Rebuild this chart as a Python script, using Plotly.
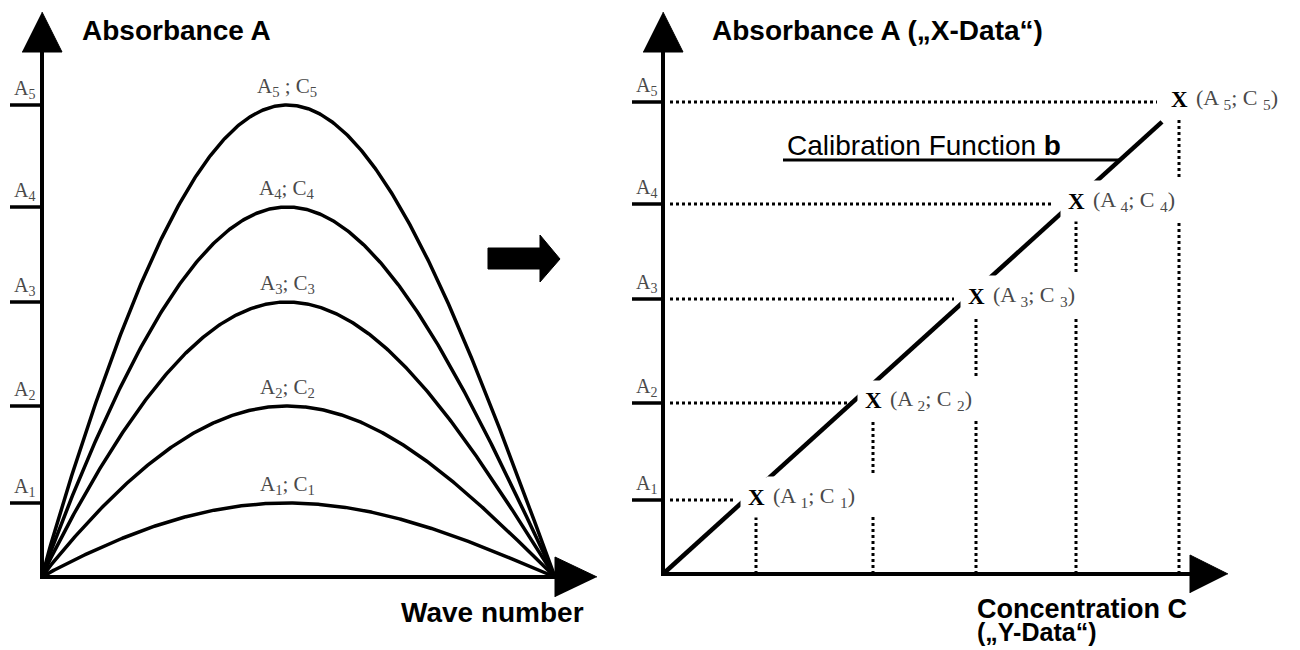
import numpy as np
import plotly.graph_objects as go

# ---- data ------------------------------------------------------------------
levels = ["1", "2", "3", "4", "5"]
absorbance = [0.74, 1.71, 2.75, 3.70, 4.72]        # A1..A5
concentration = [0.93, 2.10, 3.13, 4.13, 5.16]     # C1..C5
tick_labels = ["A<sub>%s</sub>" % lv for lv in levels]
peak_labels = ["A<sub>1</sub>; C<sub>1</sub>", "A<sub>2</sub>; C<sub>2</sub>",
               "A<sub>3</sub>; C<sub>3</sub>", "A<sub>4</sub>; C<sub>4</sub>",
               "A<sub>5</sub> ; C<sub>5</sub>"]
point_labels = ["(A <sub>%s</sub>; C <sub>%s</sub>)" % (lv, lv) for lv in levels]
band_peak = 0.478        # relative wave number of the band maximum
calib_slope = 0.906      # slope b of the calibration function
calib_end = 4.99         # concentration where the drawn calibration line stops
leader_level = 4.14      # absorbance of the "Calibration Function b" leader line
leader_start = 1.20      # concentration where the leader line starts

# ---- canvas geometry (pixels) ---------------------------------------------
W, H = 1300, 650
SPLIT = 615                              # boundary between the two panels
LX0, LX1, LY0, LUNIT = 42, 555, 577, 100  # left panel: origin, end of scan, px per A
RX0, RY0, RUNIT = 663, 574, 100          # right panel: origin, px per unit
SX = LX1 - LX0

INK = "black"
GREY = "#4a4a4a"
SERIF = "Liberation Serif, Times New Roman, serif"
SANS = "Liberation Sans, Arial, sans-serif"

traces = []


def axes_of(panel):
    return ("x", "y") if panel == "L" else ("x2", "y2")


def seg(xs, ys, panel, width, dash="solid"):
    xa, ya = axes_of(panel)
    traces.append(go.Scatter(x=xs, y=ys, xaxis=xa, yaxis=ya, mode="lines",
                             line=dict(color=INK, width=width, dash=dash),
                             hoverinfo="skip", showlegend=False))


def tri(xs, ys, panel):
    xa, ya = axes_of(panel)
    traces.append(go.Scatter(x=xs, y=ys, xaxis=xa, yaxis=ya, mode="lines",
                             fill="toself", fillcolor=INK,
                             line=dict(color=INK, width=1),
                             hoverinfo="skip", showlegend=False))


# ---- left panel: absorption bands -----------------------------------------
wn = np.linspace(0, 1, 400)
expo = np.log(0.5) / np.log(band_peak)
profile = np.sin(np.pi * wn ** expo)
for a in absorbance:
    seg(wn, a * profile, "L", 3.5)

y_top_l = (LY0 - 52) / LUNIT
seg([0, 0, 1], [y_top_l, 0, 0], "L", 4)
tri([-20 / SX, 20 / SX, 0], [y_top_l, y_top_l, (LY0 - 12) / LUNIT], "L")
tri([1, 1, (597 - LX0) / SX], [-0.2, 0.2, 0], "L")
for a in absorbance:
    seg([(10 - LX0) / SX, 0], [a, a], "L", 3.5)

# ---- right panel: calibration ---------------------------------------------
y_top_r = (RY0 - 52) / RUNIT
x_end_r = (1190 - RX0) / RUNIT
seg([0, 0, x_end_r], [y_top_r, 0, 0], "R", 4)
tri([-0.2, 0.2, 0], [y_top_r, y_top_r, (RY0 - 12) / RUNIT], "R")
tri([x_end_r, x_end_r, (1228 - RX0) / RUNIT], [-0.19, 0.19, 0], "R")
for a in absorbance:
    seg([(632 - RX0) / RUNIT, 0], [a, a], "R", 3.5)

# horizontal guides from the absorbance axis to each standard
hx, hy = [], []
for c, a in zip(concentration, absorbance):
    hx += [0.07, c - 0.22, None]
    hy += [a, a, None]
seg(hx, hy, "R", 3, dash="3px,3px")

# vertical guides down to the concentration axis, skipping the label of the
# previous standard where it crosses
vx, vy = [], []
for i, (c, a) in enumerate(zip(concentration, absorbance)):
    top = a - 0.15
    if i == 0:
        parts = [(0, top)]
    else:
        prev = absorbance[i - 1]
        parts = [(0, prev - 0.17), (prev + 0.27, top)]
    for lo, hi in parts:
        vx += [c, c, None]
        vy += [lo, hi, None]
seg(vx, vy, "R", 3, dash="3px,3px")

# calibration function and its label leader
seg([0, calib_end], [0, calib_slope * calib_end], "R", 4.5)
seg([leader_start, leader_level / calib_slope], [leader_level, leader_level], "R", 3)

fig = go.Figure(traces)

ann = []
for a, txt in zip(absorbance, peak_labels):
    ann.append(dict(x=band_peak, y=a, xref="x", yref="y", text=txt, showarrow=False,
                    xanchor="center", yanchor="bottom", yshift=3,
                    font=dict(family=SERIF, size=21, color=GREY)))
for a, txt in zip(absorbance, tick_labels):
    ann.append(dict(x=(12 - LX0) / SX, y=a, xref="x", yref="y", text=txt, showarrow=False,
                    xanchor="left", yanchor="bottom", yshift=1,
                    font=dict(family=SERIF, size=20, color=GREY)))
    ann.append(dict(x=(634 - RX0) / RUNIT, y=a, xref="x2", yref="y2", text=txt,
                    showarrow=False, xanchor="left", yanchor="bottom", yshift=1,
                    font=dict(family=SERIF, size=20, color=GREY)))
for c, a, txt in zip(concentration, absorbance, point_labels):
    ann.append(dict(x=c, y=a, xref="x2", yref="y2", text="<b>X</b>", showarrow=False,
                    xanchor="center", yanchor="middle", yshift=3,
                    bgcolor="white", borderpad=7,
                    font=dict(family=SERIF, size=23, color=INK)))
    ann.append(dict(x=c, y=a, xref="x2", yref="y2", text=txt, showarrow=False,
                    xanchor="left", yanchor="middle", yshift=3, xshift=10,
                    bgcolor="white", borderpad=6,
                    font=dict(family=SERIF, size=22, color=GREY)))


def label(px, py, txt, size=28, bold=True):
    ann.append(dict(x=px / W, y=1 - py / H, xref="paper", yref="paper",
                    text="<b>%s</b>" % txt if bold else txt, showarrow=False,
                    xanchor="left", yanchor="middle",
                    font=dict(family=SANS, size=size, color=INK)))


label(80, 30, "Absorbance A")
label(710, 30, "Absorbance A (\u201eX-Data\u201c)")
label(399, 612, "Wave number")
label(975, 609, "Concentration C", size=27)
label(975, 632, "(\u201eY-Data\u201c)", size=25)
label(785, 145, "Calibration Function <b>b</b>", bold=False)

# block arrow between the panels
arrow_px = [(488, 248), (540, 248), (540, 235), (560, 259), (540, 282), (540, 269), (488, 269)]
path = "M " + " L ".join("%.5f,%.5f" % (x / W, 1 - y / H) for x, y in arrow_px) + " Z"

fig.update_layout(
    width=W, height=H, margin=dict(l=0, r=0, t=0, b=0),
    paper_bgcolor="white", plot_bgcolor="white", showlegend=False,
    xaxis=dict(domain=[0, SPLIT / W], range=[-LX0 / SX, (SPLIT - LX0) / SX],
               visible=False, fixedrange=True),
    yaxis=dict(domain=[0, 1], range=[(LY0 - H) / LUNIT, LY0 / LUNIT],
               visible=False, fixedrange=True),
    xaxis2=dict(domain=[SPLIT / W, 1], range=[(SPLIT - RX0) / RUNIT, (W - RX0) / RUNIT],
                visible=False, fixedrange=True, anchor="y2"),
    yaxis2=dict(domain=[0, 1], range=[(RY0 - H) / RUNIT, RY0 / RUNIT],
                visible=False, fixedrange=True, anchor="x2"),
    annotations=ann,
    shapes=[dict(type="path", path=path, xref="paper", yref="paper",
                 fillcolor=INK, line=dict(color=INK, width=1))],
)

fig.write_html("out.html", config={"displayModeBar": False})
